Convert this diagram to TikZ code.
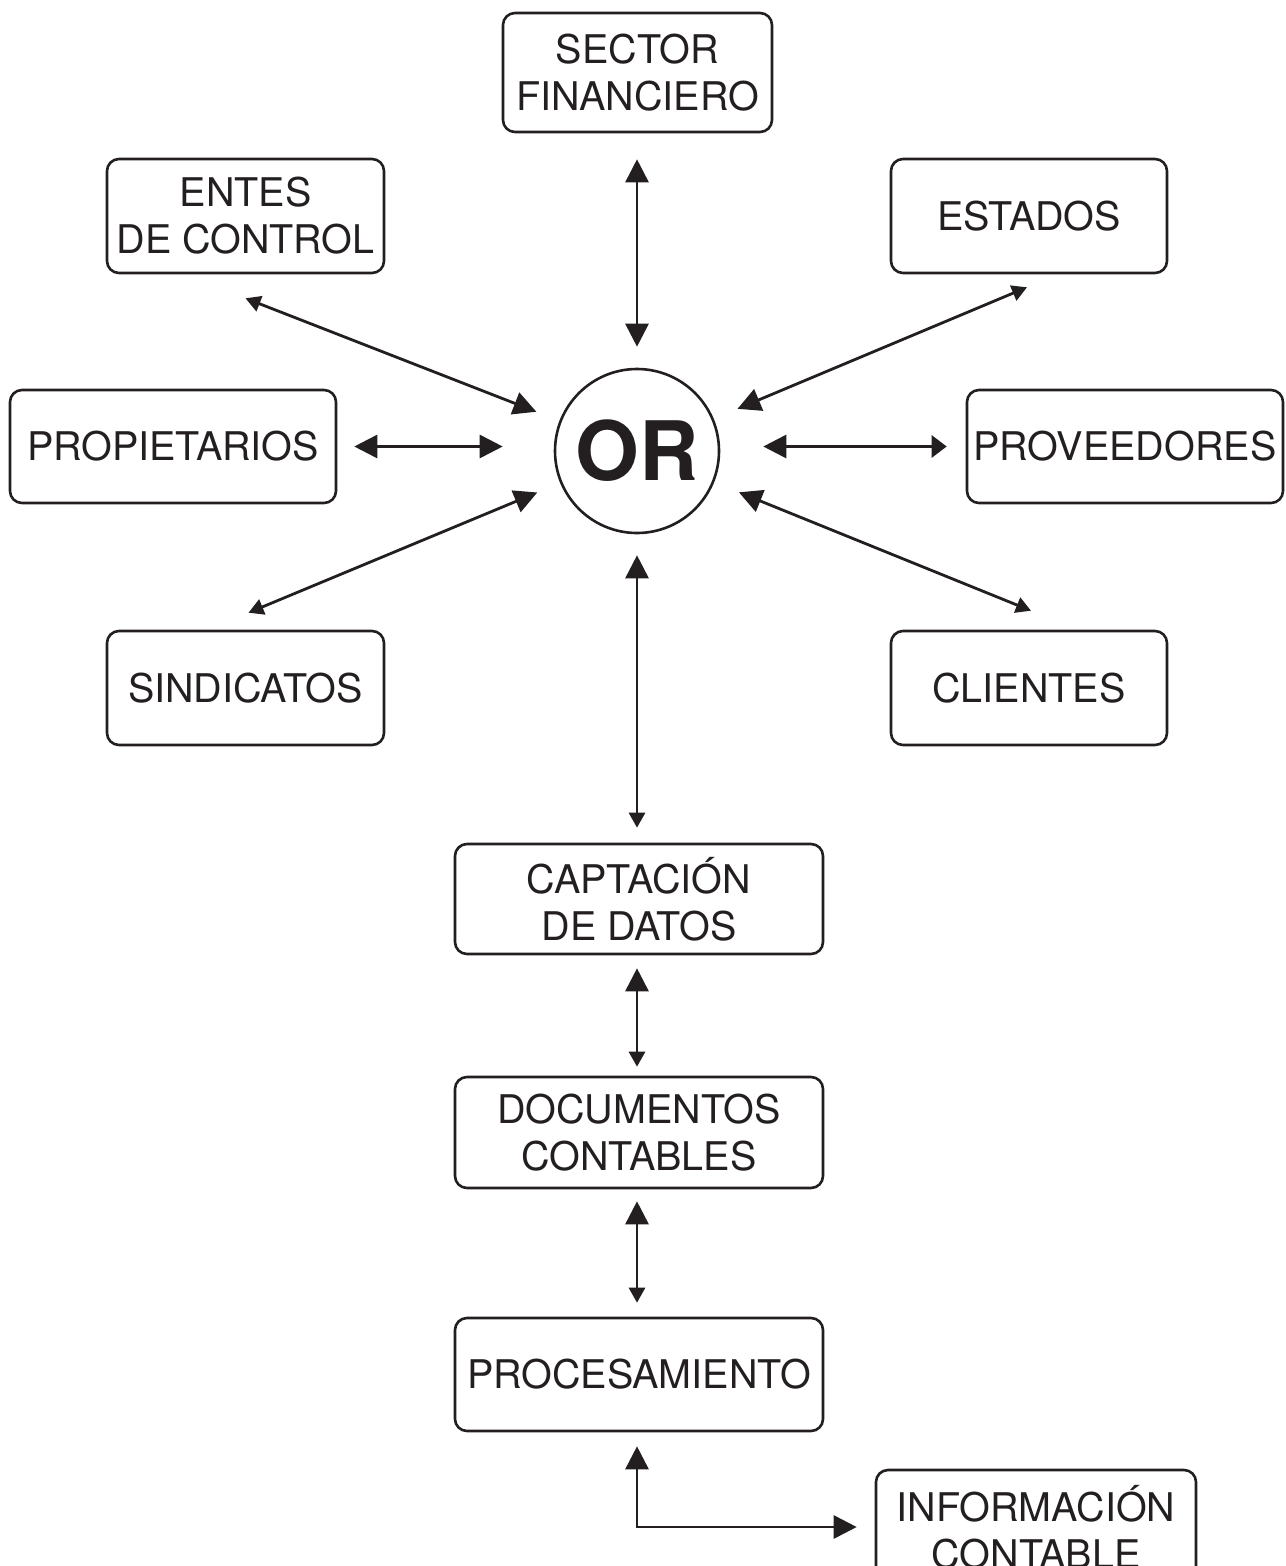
\documentclass[tikz,border=0pt]{standalone}
\usepackage{fontspec}
\setmainfont{TeX Gyre Heros}
\usetikzlibrary{arrows.meta,calc}
\definecolor{ink}{RGB}{35,31,32}
\tikzset{
  Big/.tip={Triangle[length=23pt,width=23pt]},
  Sm/.tip={Triangle[length=15pt,width=16pt]},
  Mid/.tip={Triangle[length=15pt,width=22pt]},
  box/.style={draw=ink, line width=2.6pt, rounded corners=12pt, align=center,
    text=ink, inner sep=0pt, font=\fontsize{39.5}{47}\selectfont},
  hub/.style={draw=ink, line width=2.6pt, circle, minimum size=164pt, inner sep=0pt,
    text=ink, font=\fontsize{82}{82}\selectfont\bfseries},
  link/.style={draw=ink, line width=2.8pt},
}
\begin{document}
\begin{tikzpicture}[x=1pt,y=-1pt]
\useasboundingbox (0,0) rectangle (1285,1566);

% stakeholder boxes around the organisation
\node[box, minimum width=269pt, minimum height=119pt] (sector)   at (637.5,72.5) {SECTOR\\FINANCIERO};
\node[box, minimum width=277pt, minimum height=114pt] (entes)    at (245.5,216)  {ENTES\\DE CONTROL};
\node[box, minimum width=276pt, minimum height=114pt] (estados)  at (1029,216)   {ESTADOS};
\node[box, minimum width=326pt, minimum height=113pt] (prop)     at (173,446.5)  {PROPIETARIOS};
\node[box, minimum width=316pt, minimum height=113pt] (prov)     at (1125,446.5) {PROVEEDORES};
\node[box, minimum width=277pt, minimum height=114pt] (sind)     at (245.5,688)  {SINDICATOS};
\node[box, minimum width=276pt, minimum height=114pt] (clientes) at (1029,688)   {CLIENTES};
\node[hub] (or) at (637,451) {OR};

% accounting chain
\node[box, minimum width=368pt, minimum height=110pt] (capt) at (639,899)    {CAPTACIÓN\\DE DATOS};
\node[box, minimum width=368pt, minimum height=111pt] (docs) at (639,1132.5) {DOCUMENTOS\\CONTABLES};
\node[box, minimum width=368pt, minimum height=113pt] (proc) at (639,1374.5) {PROCESAMIENTO};
\node[box, minimum width=320pt, minimum height=114pt] (info) at (1036,1527)  {INFORMACIÓN\\CONTABLE};

% connectors to the hub
\draw[link, {Big}-{Big}] ($(or.north |- sector.south)+(0,26)$) -- ($(or.north)+(0,-21)$);
\draw[link, {Sm}-{Big}, shorten >=108pt] ($(entes.south)+(0,24)$) -- (or.center);
\draw[link, {Sm}-{Big}, shorten >=109pt] ($(estados.south)+(-2,13)$) -- (or.center);
\draw[link, {Sm}-{Big}, shorten >=108pt] ($(sind.north)+(3,-17)$) -- (or.center);
\draw[link, {Sm}-{Big}, shorten >=110pt] ($(clientes.north)+(2,-19)$) -- (or.center);
\draw[link, {Big}-{Big}] ($(prop.east)+(17,0)$) -- ($(prop.east -| or.west)+(-51,0)$);
\draw[link, {Big}-{Mid}] ($(or.east |- prov.west)+(43,0)$) -- ($(prov.west)+(-19,0)$);
\draw[link, {Big}-{Sm}] ($(or.south)+(0,21)$) -- ($(capt.north -| or.south)+(0,-15)$);

% connectors along the chain
\draw[link, {Big}-{Sm}] ($(capt.south -| or.south)+(0,13)$) -- ($(docs.north -| or.south)+(0,-9)$);
\draw[link, {Big}-{Sm}] ($(docs.south -| or.south)+(0,12)$) -- ($(proc.north -| or.south)+(0,-14)$);
\draw[link, {Big}-{Big}] ($(proc.south -| or.south)+(0,14)$) |- ($(info.west)+(-18,0)$);
\end{tikzpicture}
\end{document}
